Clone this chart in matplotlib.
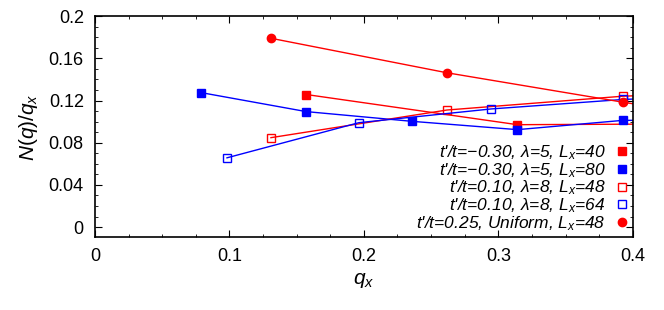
import matplotlib.pyplot as plt
from matplotlib.ticker import MultipleLocator, FuncFormatter
import numpy as np

plt.rcParams['font.family'] = ['Liberation Sans', 'DejaVu Sans']
plt.rcParams['mathtext.fontset'] = 'custom'
plt.rcParams['mathtext.it'] = 'Liberation Sans:italic'
plt.rcParams['mathtext.rm'] = 'Liberation Sans'

# q_x = 2*pi*n / L_x
q40 = [0.1571, 0.3142, 0.4712]
n40 = [0.1257, 0.0971, 0.0980]

q80 = [0.0785, 0.1571, 0.2356, 0.3142, 0.3927, 0.4712]
n80 = [0.1276, 0.1095, 0.1003, 0.0924, 0.1012, 0.1015]

q48 = [0.1309, 0.2618, 0.3927, 0.5236]
n48 = [0.0848, 0.1110, 0.1241, 0.1300]

q64 = [0.0982, 0.1963, 0.2945, 0.3927, 0.4909]
n64 = [0.0657, 0.0990, 0.1120, 0.1210, 0.1260]

qu = [0.1309, 0.2618, 0.3927, 0.5236]
nu = [0.1790, 0.1463, 0.1184, 0.0930]

labels = [
    "t'/t=\u22120.30, \u03bb=5, $L_x$=40",
    "t'/t=\u22120.30, \u03bb=5, $L_x$=80",
    "t'/t=0.10, \u03bb=8, $L_x$=48",
    "t'/t=0.10, \u03bb=8, $L_x$=64",
    "t'/t=0.25, Uniform, $L_x$=48",
]

fig = plt.figure(figsize=(6.64, 3.10), dpi=100)
ax = fig.add_axes([0.143, 0.235, 0.81, 0.713])

ms = 6
ax.plot(q40, n40, '-s', color='#ff0000', lw=1, ms=ms, label=labels[0])
ax.plot(q80, n80, '-s', color='#0000ff', lw=1, ms=ms, label=labels[1])
ax.plot(q48, n48, '-s', color='#ff0000', lw=1, ms=ms, mfc='none', mew=1, label=labels[2])
ax.plot(q64, n64, '-s', color='#0000ff', lw=1, ms=ms, mfc='none', mew=1, label=labels[3])
ax.plot(qu, nu, '-o', color='#ff0000', lw=1, ms=ms, label=labels[4])

ax.set_xlim(0, 0.4)
ax.set_ylim(-0.0095, 0.2)
ax.xaxis.set_major_locator(MultipleLocator(0.1))
ax.xaxis.set_minor_locator(MultipleLocator(0.025))
ax.yaxis.set_major_locator(MultipleLocator(0.04))
ax.yaxis.set_minor_locator(MultipleLocator(0.01))
fmt = FuncFormatter(lambda v, p: '0' if abs(v) < 1e-9 else ('%.2f' % v).rstrip('0'))
ax.xaxis.set_major_formatter(fmt)
ax.yaxis.set_major_formatter(fmt)
ax.tick_params(which='both', direction='in', top=True, right=True, labelsize=13)
ax.tick_params(which='major', length=5, width=0.8, pad=8)
ax.tick_params(which='minor', length=2.5, width=0.6)
for s in ax.spines.values():
    s.set_linewidth(1.2)

ax.set_xlabel(r'$q_x$', fontsize=15, labelpad=4)
ax.set_ylabel(r'$\mathit{N(q)/q_x}$', fontsize=15, labelpad=6)

leg = ax.legend(loc='lower right', frameon=False, markerfirst=False,
                prop={'style': 'italic', 'size': 12.5}, handlelength=0.8,
                handletextpad=0.5, labelspacing=-0.06, borderaxespad=0.05,
                borderpad=0.2)
for h in leg.legend_handles:
    h.set_linestyle('none')

fig.savefig('out.png', dpi=100)
